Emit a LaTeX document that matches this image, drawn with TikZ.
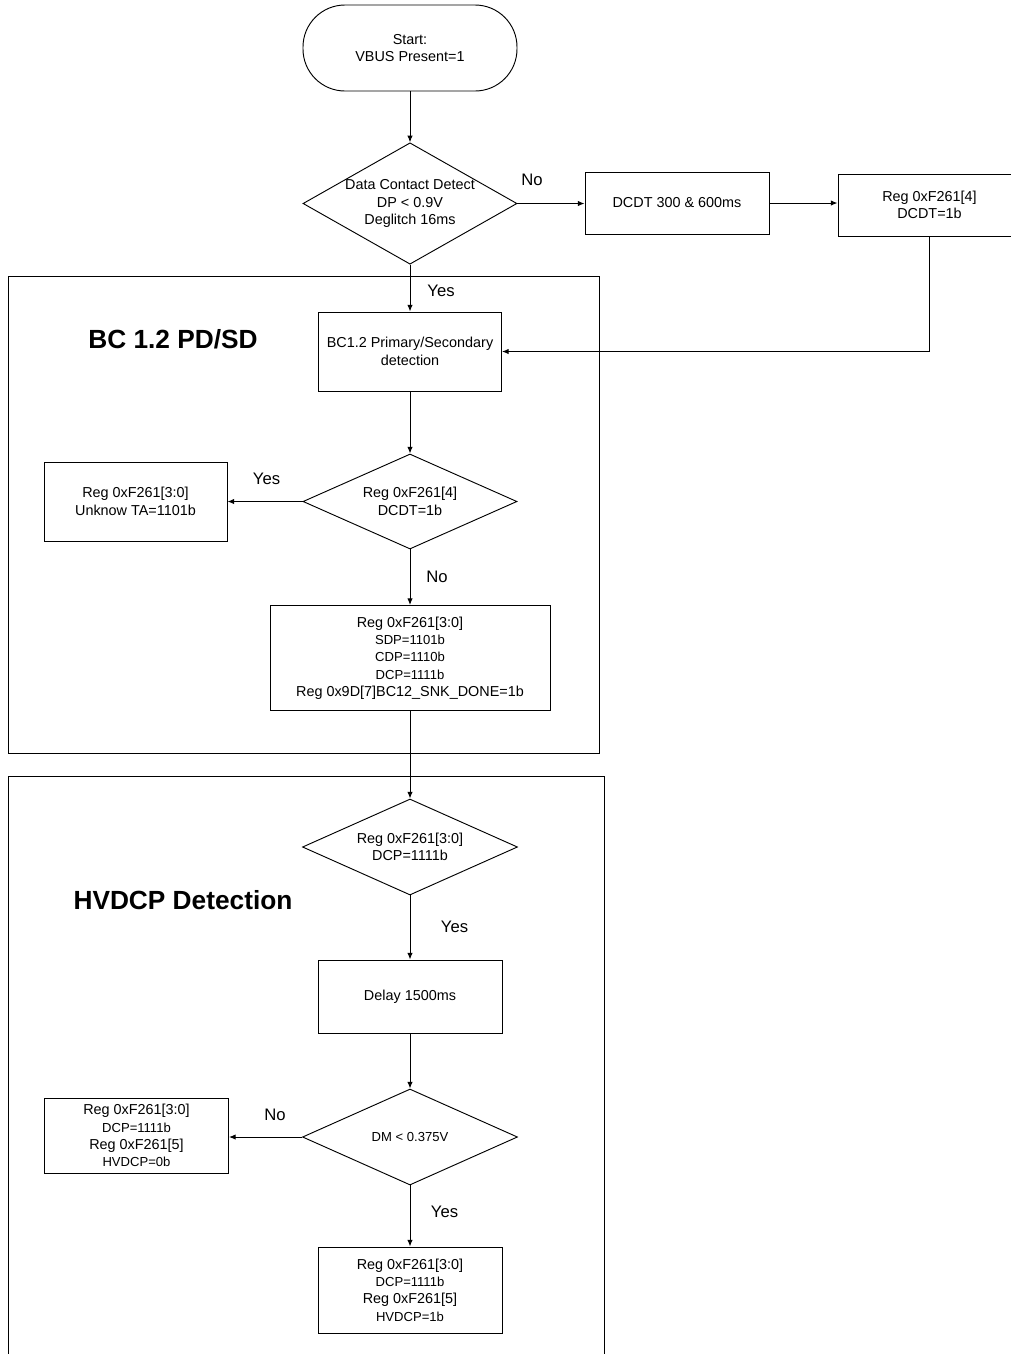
\documentclass[tikz,border=0pt]{standalone}
\usepackage{fontspec}
\setmainfont{Liberation Sans}
\usetikzlibrary{shapes.geometric,arrows.meta}
\newcommand{\pixel}{0.75pt}
\newcommand{\textsz}{\fontsize{10.8}{13}\selectfont}
\newcommand{\smallsz}{\fontsize{9.8}{13}\selectfont}
\newcommand{\labelsz}{\fontsize{12.5}{15}\selectfont}
\newcommand{\titlesz}{\fontsize{19.7}{23}\selectfont\bfseries}

\begin{document}
\begin{tikzpicture}[x=\pixel,y=-\pixel,line width=0.7pt,
	flow/.style={-{Latex[length=5pt,width=4pt]}},
	procbox/.style={draw, align=center, inner sep=1pt, font=\textsz},
	decision/.style={draw, diamond, aspect=2.25, align=center, inner sep=0pt, font=\textsz},
	answer/.style={font=\labelsz},
	grouptitle/.style={font=\titlesz}]

	\useasboundingbox (0,0) rectangle (1011,1354);

	\draw (8,276) rectangle (599,753);
	\draw (8,1354) -- (8,776) -- (604,776) -- (604,1354);

	\node[grouptitle] (bctitle) at (173,339) {BC 1.2 PD/SD};
	\node[grouptitle] (hvtitle) at (183,900) {HVDCP Detection};

	\node[procbox, rounded corners=31.5pt, minimum width=214*\pixel, minimum height=86*\pixel] (start) at (410,48) {Start:\\VBUS Present=1};
	\node[decision, aspect=1.76, minimum width=214*\pixel, minimum height=121*\pixel] (dcd) at (410,203.5) {Data Contact Detect\\DP < 0.9V\\Deglitch 16ms};
	\node[procbox, minimum width=184*\pixel, minimum height=62*\pixel] (dcdt) at (677,203) {DCDT 300 \& 600ms};
	\node[procbox, minimum width=183*\pixel, minimum height=62*\pixel] (dcdtreg) at (929.5,205) {Reg 0xF261[4]\\DCDT=1b};

	\node[procbox, minimum width=183*\pixel, minimum height=79*\pixel] (bcdet) at (410,351.5) {BC1.2 Primary/Secondary\\detection};
	\node[decision, minimum width=214*\pixel, minimum height=95*\pixel] (dcdtchk) at (410,501.5) {Reg 0xF261[4]\\DCDT=1b};
	\node[procbox, minimum width=183*\pixel, minimum height=79*\pixel] (unknown) at (135.5,501.5) {Reg 0xF261[3:0]\\Unknow TA=1101b};
	\node[procbox, minimum width=280*\pixel, minimum height=105*\pixel] (snkdone) at (410,658) {Reg 0xF261[3:0]\\\smallsz SDP=1101b\\\smallsz CDP=1110b\\\smallsz DCP=1111b\\Reg 0x9D[7]BC12\_SNK\_DONE=1b};

	\node[decision, minimum width=215*\pixel, minimum height=96*\pixel] (dcpchk) at (410,847) {Reg 0xF261[3:0]\\DCP=1111b};
	\node[procbox, minimum width=184*\pixel, minimum height=73*\pixel] (delay) at (410,996.5) {Delay 1500ms};
	\node[decision, font=\smallsz, minimum width=215*\pixel, minimum height=96*\pixel] (dmchk) at (410,1137) {DM < 0.375V};
	\node[procbox, minimum width=184*\pixel, minimum height=75*\pixel] (hvdcpno) at (136.5,1135.5) {Reg 0xF261[3:0]\\\smallsz DCP=1111b\\Reg 0xF261[5]\\\smallsz HVDCP=0b};
	\node[procbox, minimum width=184*\pixel, minimum height=86*\pixel] (hvdcpyes) at (410,1290) {Reg 0xF261[3:0]\\\smallsz DCP=1111b\\Reg 0xF261[5]\\\smallsz HVDCP=1b};

	\node[answer] (dcdno) at (532,180) {No};
	\node[answer] (dcdyes) at (441,291) {Yes};
	\node[answer] (chkyes) at (266.5,479) {Yes};
	\node[answer] (chkno) at (437,577) {No};
	\node[answer] (dcpyes) at (454.5,927) {Yes};
	\node[answer] (dmno) at (275,1115) {No};
	\node[answer] (dmyes) at (444.5,1212) {Yes};

	\draw[flow] (start) -- (dcd);
	\draw[flow] (dcd.east) -- (dcd.east -| dcdt.west);
	\draw[flow] (dcdt.east) -- (dcdt.east -| dcdtreg.west);
	\draw[flow] (dcdtreg.south) |- (bcdet.east);
	\draw[flow] (dcd) -- (bcdet);
	\draw[flow] (bcdet) -- (dcdtchk);
	\draw[flow] (dcdtchk) -- (unknown);
	\draw[flow] (dcdtchk) -- (snkdone);
	\draw[flow] (snkdone) -- (dcpchk);
	\draw[flow] (dcpchk) -- (delay);
	\draw[flow] (delay) -- (dmchk);
	\draw[flow] (dmchk.west) -- (dmchk.west -| hvdcpno.east);
	\draw[flow] (dmchk) -- (hvdcpyes);

\end{tikzpicture}
\end{document}
